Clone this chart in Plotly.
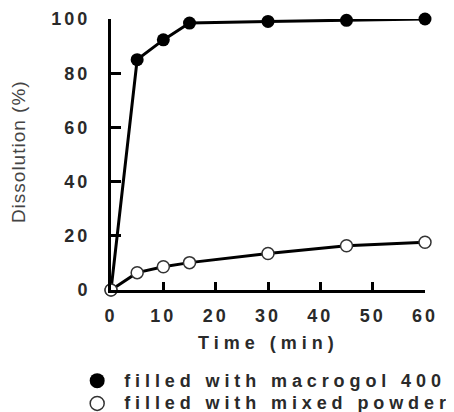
import plotly.graph_objects as go

time_min = [0, 5, 10, 15, 30, 45, 60]
macrogol = [0, 85, 92.3, 98.5, 99.1, 99.5, 100]
mixed = [0, 6.4, 8.6, 10.1, 13.5, 16.3, 17.6]
x_ticks = [0, 10, 20, 30, 40, 50, 60]
y_ticks = [0, 20, 40, 60, 80, 100]
series_names = ["filled with macrogol 400", "filled with mixed powder"]
x_title = "Time (min)"
y_title = "Dissolution (%)"

FONT = "Liberation Sans"
TXT = "#2a2a2a"


def sp(s, px, size=None):
    st = f"letter-spacing:{px}px"
    if size:
        st += f";font-size:{size}px"
    return f'<span style="{st}">{s}</span>'


fig = go.Figure()
fig.add_trace(go.Scatter(
    x=time_min, y=macrogol, mode="lines+markers", showlegend=False,
    line=dict(color="black", width=3),
    marker=dict(symbol="circle", size=13, color="black"),
    cliponaxis=False))
fig.add_trace(go.Scatter(
    x=time_min, y=mixed, mode="lines+markers", showlegend=False,
    line=dict(color="black", width=3),
    marker=dict(symbol="circle", size=12, color="white",
                line=dict(color="#333", width=1.5)),
    cliponaxis=False))
# legend entries (markers only)
fig.add_trace(go.Scatter(
    x=[None], y=[None], mode="markers", name=sp(series_names[0], 4.9, 18),
    marker=dict(symbol="circle", size=15, color="black")))
fig.add_trace(go.Scatter(
    x=[None], y=[None], mode="markers", name=sp(series_names[1], 4.9, 18),
    marker=dict(symbol="circle", size=14, color="white",
                line=dict(color="#333", width=1.5))))

tickfont = dict(family=FONT, size=18, color=TXT, weight="bold")

fig.update_layout(
    width=446, height=404,
    margin=dict(l=103, r=29, t=11, b=122, autoexpand=False),
    plot_bgcolor="white", paper_bgcolor="white",
    font=dict(family=FONT, color=TXT),
    xaxis=dict(range=[0, 60], tickvals=x_ticks,
               ticktext=[sp(str(v), 3) for v in x_ticks],
               showline=True, linewidth=3, linecolor="black",
               ticks="inside", ticklen=8, tickwidth=3, tickcolor="black",
               showgrid=False, zeroline=False, tickfont=tickfont,
               ticklabelstandoff=7, automargin=False),
    yaxis=dict(range=[0, 100], tickvals=y_ticks,
               ticktext=[sp(str(v), 3) for v in y_ticks],
               showline=True, linewidth=3, linecolor="black",
               ticks="inside", ticklen=10, tickwidth=3, tickcolor="black",
               showgrid=False, zeroline=False, tickfont=tickfont,
               ticklabelstandoff=14, automargin=False),
    legend=dict(x=-0.13, y=-0.274, xanchor="left", yanchor="top",
                font=dict(family=FONT, size=15.2, color=TXT, weight="bold"),
                bgcolor="rgba(0,0,0,0)", itemwidth=44, tracegroupgap=0),
    annotations=[
        dict(text=sp(x_title, 5), xref="paper", yref="paper", x=0.5, y=-0.1956,
             xanchor="center", yanchor="middle", showarrow=False,
             font=dict(family=FONT, size=18, color=TXT, weight="bold")),
        dict(text=sp(y_title, 1), xref="paper", yref="paper", x=-0.296, y=0.509,
             xanchor="center", yanchor="middle", showarrow=False, textangle=-90,
             font=dict(family=FONT, size=19, color="#444")),
    ],
)

fig.write_html("out.html")
